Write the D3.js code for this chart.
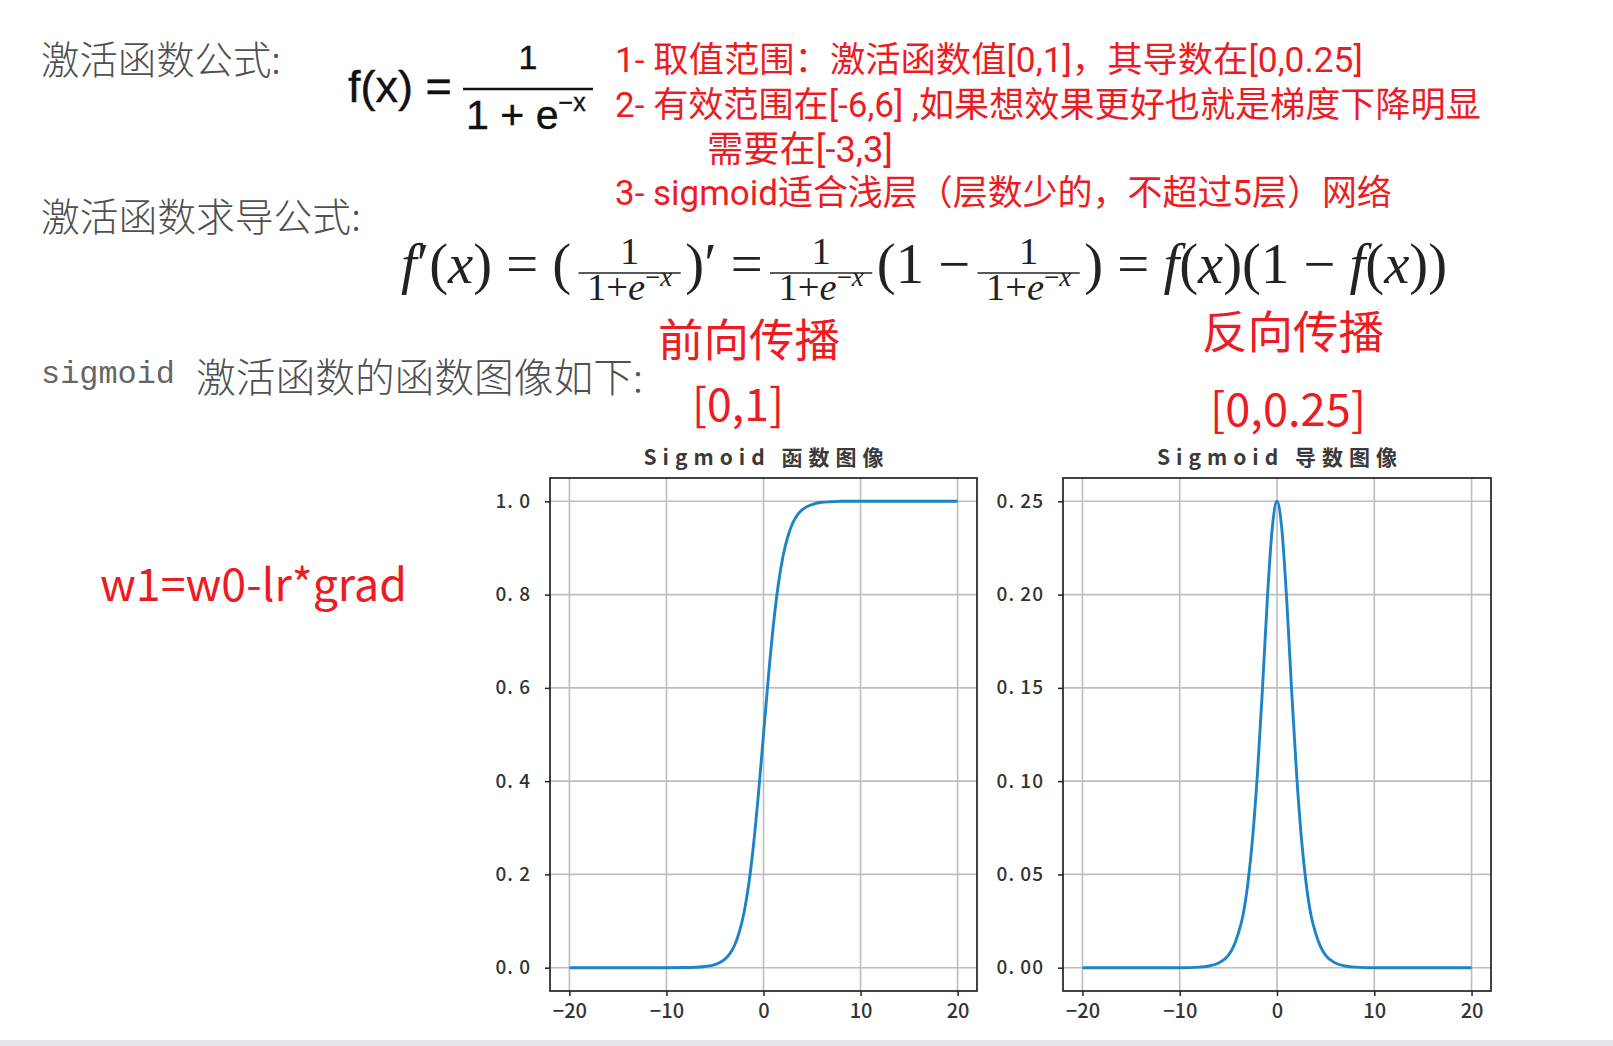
<!DOCTYPE html>
<html><head><meta charset="utf-8">
<script src="https://cdn.jsdelivr.net/npm/d3@7"></script>
<style>body{margin:0;background:#fff}svg{display:block}</style>
</head><body>
<svg id="c" width="1613" height="1046"></svg>
<script>
// ---- data ----
const xTicks = [-20, -10, 0, 10, 20];
const yTicksSigmoid = [0, 0.2, 0.4, 0.6, 0.8, 1.0];
const yTicksDeriv = [0, 0.05, 0.10, 0.15, 0.20, 0.25];
const xs = [-20,-16,-12,-10,-8,-7,-6,-5,-4.5,-4,-3.5,-3,-2.5,-2,-1.5,-1,-0.5,0,0.5,1,1.5,2,2.5,3,3.5,4,4.5,5,6,7,8,10,12,16,20];
const sigmoidVals = [0,0,0,0,0.0003,0.0009,0.0025,0.0067,0.011,0.018,0.029,0.047,0.076,0.119,0.182,0.269,0.378,0.5,0.622,0.731,0.818,0.881,0.924,0.953,0.971,0.982,0.989,0.993,0.998,0.999,1,1,1,1,1];
const derivVals = [0,0,0,0,0.0003,0.0009,0.0025,0.0066,0.011,0.018,0.028,0.045,0.070,0.105,0.149,0.197,0.235,0.25,0.235,0.197,0.149,0.105,0.070,0.045,0.028,0.018,0.011,0.0066,0.0025,0.0009,0.0003,0,0,0,0];
const panelTitles = ["Sigmoid 函数图像", "Sigmoid 导数图像"];
const redNotes = ["1- 取值范围：激活函数值[0,1]，其导数在[0,0.25]", "2- 有效范围在[-6,6] ,如果想效果更好也就是梯度下降明显", "需要在[-3,3]", "3- sigmoid适合浅层（层数少的，不超过5层）网络"];

const svg = d3.select("#c");
const RED = "#ec1c24";
const CJK = "'Noto Sans CJK SC', 'Noto Sans', sans-serif";
const NOTE = "Roboto, 'Noto Sans CJK SC', sans-serif";

function fitText(sel, w){
  const bw = sel.node().getBBox().width;
  const fs = parseFloat(sel.attr("font-size"));
  sel.attr("font-size", fs * w / bw);
  return sel;
}
function txt(x, y, s, fs, color, font, w, extra){
  const t = svg.append("text").attr("x", x).attr("y", y).attr("font-size", fs)
    .attr("fill", color).attr("font-family", font).attr("dominant-baseline","central").text(s);
  if (extra) extra(t);
  if (w) fitText(t, w);
  return t;
}

// bottom band
svg.append("rect").attr("x",0).attr("y",1040).attr("width",1613).attr("height",6).attr("fill","#e4e4ea");

// gray headings
const GRAY = "#505050";
txt(41, 57, "激活函数公式:", 37, GRAY, CJK, 240, t=>t.attr("font-weight",300));
txt(41, 214, "激活函数求导公式:", 37, GRAY, CJK, 320, t=>t.attr("font-weight",300));
txt(41, 374, "sigmoid", 30, "#666", "'Liberation Mono', monospace", 134);
txt(196, 374, "激活函数的函数图像如下:", 36, GRAY, CJK, 447, t=>t.attr("font-weight",300));

// red notes
txt(615, 60, redNotes[0], 32, RED, NOTE, 748);
txt(615, 105, redNotes[1], 32, RED, NOTE, 866);
txt(707, 149, redNotes[2], 32, RED, NOTE, 186);
txt(615, 193, redNotes[3], 32, RED, NOTE, 777);
txt(658, 337, "前向传播", 44, RED, CJK, 182);
txt(692, 401, "[0,1]", 44, RED, CJK, 92);
txt(1202, 329, "反向传播", 44, RED, CJK, 182);
txt(1210, 406, "[0,0.25]", 44, RED, CJK, 156);
txt(100, 581, "w1=w0-lr*grad", 42, RED, CJK, 307);

// formula 1
const F1 = "'Liberation Sans', sans-serif";
const FC = "#111";
const thick = t=>t.attr("stroke",FC).attr("stroke-width",0.4);
txt(348, 86, "f(x) =", 36, FC, F1, 104, thick);
svg.append("line").attr("x1",463).attr("x2",593).attr("y1",89).attr("y2",89).attr("stroke",FC).attr("stroke-width",2.6);
txt(528, 57, "1", 34, FC, F1, null, thick).attr("text-anchor","middle");
const den1 = svg.append("text").attr("x",466).attr("y",115).attr("font-size",34).attr("fill",FC).attr("font-family",F1).attr("dominant-baseline","central");
thick(den1);
den1.append("tspan").text("1 + e");
den1.append("tspan").attr("dy",-13).attr("font-size",25).text("−x");
fitText(den1, 126);

// formula 2 (layout engine, two passes so that it fills its width at scale 1)
(function(){
  const MF = "'Liberation Serif', serif";
  const B = 283;         // main baseline
  const X0 = 401, W = 1049;
  function build(FS){
    const FFS = FS * 0.68;
    const g = svg.append("g");
    let x = X0;
    function run(parts){
      const t = g.append("text").attr("x",x).attr("y",B).attr("font-family",MF).attr("font-size",FS).attr("fill","#222");
      parts.forEach(p=>t.append("tspan").attr("font-style",p[1]?"italic":"normal").text(p[0]));
      x += t.node().getComputedTextLength() + FS*0.05;
    }
    function frac(){
      const num = g.append("text").attr("font-family",MF).attr("font-size",FFS).attr("fill","#222").attr("text-anchor","middle").text("1");
      const den = g.append("text").attr("font-family",MF).attr("font-size",FFS).attr("fill","#222").attr("text-anchor","middle");
      den.append("tspan").text("1+");
      den.append("tspan").attr("font-style","italic").text("e");
      den.append("tspan").attr("dy",-FFS*0.36).attr("font-size",FFS*0.7).text("−");
      den.append("tspan").attr("font-size",FFS*0.7).attr("font-style","italic").text("x");
      const w = den.node().getComputedTextLength() + FS*0.3;
      const pad = FS*0.08;
      const cx = x + pad + w/2;
      num.attr("x",cx).attr("y",B-19);
      den.attr("x",cx).attr("y",B+17);
      g.append("line").attr("x1",x+pad).attr("x2",x+pad+w).attr("y1",B-10).attr("y2",B-10).attr("stroke","#222").attr("stroke-width",1.5);
      x += w + 2*pad;
    }
    run([["f",1],["′(",0],["x",1],[") = (",0]]);
    frac();
    run([[")′ = ",0]]);
    frac();
    run([["(1 − ",0]]);
    frac();
    run([[") = ",0],["f",1],["(",0],["x",1],[")(1 − ",0],["f",1],["(",0],["x",1],["))",0]]);
    return {g, w: x - X0};
  }
  const first = build(40);
  first.g.remove();
  build(40 * W / first.w);
})();

// ---- charts ----
const panels = [
  {x0:550, x1:977, vals:sigmoidVals, yt:yTicksSigmoid, ydom:[-0.05,1.05], fmt:d=>d.toFixed(1).replace(".",". "), title:panelTitles[0]},
  {x0:1063, x1:1491, vals:derivVals, yt:yTicksDeriv, ydom:[-0.0125,0.2625], fmt:d=>d.toFixed(2).replace(".",". "), title:panelTitles[1]}
];
const yTop = 478, yBot = 991;
const TF = "'Noto Sans CJK JP', sans-serif";
panels.forEach(p=>{
  const xS = d3.scaleLinear().domain([-22,22]).range([p.x0,p.x1]);
  const yS = d3.scaleLinear().domain(p.ydom).range([yBot,yTop]);
  const g = svg.append("g");
  g.selectAll(".gx").data(xTicks).join("line").attr("x1",d=>xS(d)).attr("x2",d=>xS(d)).attr("y1",yTop).attr("y2",yBot)
    .attr("stroke","#bdbdbd").attr("stroke-width",1.6);
  g.selectAll(".gy").data(p.yt).join("line").attr("y1",d=>yS(d)).attr("y2",d=>yS(d)).attr("x1",p.x0).attr("x2",p.x1)
    .attr("stroke","#bdbdbd").attr("stroke-width",1.6);
  const line = d3.line().x((d,i)=>xS(xs[i])).y(d=>yS(d)).curve(d3.curveMonotoneX);
  g.append("path").datum(p.vals).attr("d",line).attr("fill","none").attr("stroke","#1c84c6").attr("stroke-width",2.9);
  const ax = g.append("g").attr("transform",`translate(0,${yBot})`).call(d3.axisBottom(xS).tickValues(xTicks).tickSize(5).tickPadding(8).tickFormat(d=>d<0?"−"+Math.abs(d):d));
  const ay = g.append("g").attr("transform",`translate(${p.x0},0)`).call(d3.axisLeft(yS).tickValues(p.yt).tickSize(5).tickPadding(14).tickFormat(p.fmt));
  [ax,ay].forEach(a=>{
    a.select(".domain").remove();
    a.selectAll(".tick line").attr("stroke","#222").attr("stroke-width",1.5);
    a.selectAll(".tick text").attr("font-family",TF).attr("font-size",19).attr("font-weight",500).attr("fill","#333");
  });
  ax.selectAll(".tick text").attr("font-size",20);
  ay.selectAll(".tick text").attr("letter-spacing",1);
  g.append("rect").attr("x",p.x0).attr("y",yTop).attr("width",p.x1-p.x0).attr("height",yBot-yTop)
    .attr("fill","none").attr("stroke","#222").attr("stroke-width",1.7);
  g.append("text").attr("x",(p.x0+p.x1)/2 + 3).attr("y",456).attr("text-anchor","middle").attr("dominant-baseline","central")
    .attr("font-family",TF).attr("font-size",21).attr("font-weight",700).attr("letter-spacing",6).attr("fill","#3a3a3a").text(p.title);
});
</script>
</body></html>
